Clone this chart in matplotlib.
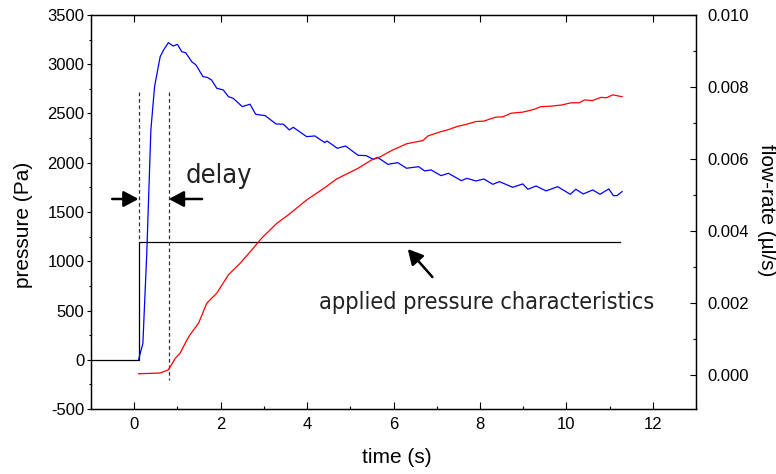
import matplotlib
matplotlib.use("Agg")
from matplotlib import pyplot as plt
from matplotlib.ticker import MultipleLocator, FormatStrFormatter

# data
time_p = [0.1, 0.2, 0.29, 0.385, 0.47, 0.6, 0.68, 0.79, 0.9, 1.0, 1.1, 1.19, 1.33, 1.43,
          1.59, 1.69, 1.79, 1.91, 2.06, 2.18, 2.29, 2.5, 2.68, 2.81, 3.03, 3.28, 3.45, 3.59,
          3.68, 3.99, 4.18, 4.41, 4.46, 4.7, 4.89, 5.18, 5.37, 5.53, 5.63, 5.87, 6.1, 6.3,
          6.58, 6.72, 6.87, 7.1, 7.27, 7.57, 7.7, 7.91, 8.09, 8.3, 8.45, 8.76, 8.99, 9.11,
          9.3, 9.53, 9.8, 10.09, 10.22, 10.39, 10.61, 10.78, 10.98, 11.09, 11.17, 11.29]
pressure = [0, 167, 1080, 2333, 2772, 3077, 3145, 3219, 3185, 3202, 3127, 3117, 3026, 2992,
            2874, 2867, 2840, 2756, 2739, 2671, 2654, 2570, 2594, 2492, 2478, 2394, 2391, 2333,
            2360, 2265, 2272, 2204, 2221, 2147, 2170, 2076, 2072, 2035, 2055, 1984, 2001, 1944,
            1960, 1917, 1927, 1869, 1893, 1818, 1842, 1815, 1835, 1781, 1808, 1751, 1785, 1731,
            1764, 1714, 1757, 1680, 1731, 1683, 1724, 1680, 1734, 1666, 1666, 1707]

time_f = [0.1, 0.6, 0.79, 0.95, 1.06, 1.22, 1.29, 1.49, 1.68, 1.91, 2.18, 2.45, 2.72, 2.95,
          3.3, 3.56, 3.99, 4.41, 4.68, 5.18, 5.49, 5.68, 5.95, 6.3, 6.68, 6.8, 7.1, 7.26,
          7.47, 7.68, 7.91, 8.09, 8.36, 8.53, 8.72, 8.99, 9.26, 9.4, 9.68, 9.9, 10.11, 10.3,
          10.42, 10.6, 10.8, 10.93, 11.07, 11.29]
flow = [0.00003, 0.00005, 0.00014, 0.00046, 0.0006, 0.00097, 0.00111, 0.00144, 0.00199,
        0.00227, 0.00278, 0.0031, 0.00347, 0.0038, 0.00421, 0.00444, 0.00486, 0.0052,
        0.00544, 0.00574, 0.00597, 0.00605, 0.00623, 0.00642, 0.00651, 0.00664, 0.00676,
        0.00681, 0.0069, 0.00696, 0.00704, 0.00705, 0.00716, 0.00717, 0.00727, 0.0073,
        0.00738, 0.00745, 0.00747, 0.0075, 0.00756, 0.00756, 0.00764, 0.00762, 0.00771,
        0.0077, 0.00778, 0.00773]

applied_t = [-1, 0.1, 0.1, 11.25]
applied_p = [0, 0, 1200, 1200]

delay_start = 0.1
delay_end = 0.8

plt.rcParams['font.family'] = ['Liberation Sans', 'DejaVu Sans']
plt.rcParams['axes.unicode_minus'] = False

fig = plt.figure(figsize=(7.76, 4.74), dpi=100)
ax = fig.add_axes([0.1173, 0.1371, 0.7796, 0.8313])

ax.plot(applied_t, applied_p, color='black', lw=0.9)
ax.plot(time_p, pressure, color='#0000ff', lw=0.9)
ax.plot([delay_start, delay_start], [2718, 1200], color='#333333', lw=0.9, dashes=(3, 2.2))
ax.plot([delay_end, delay_end], [2718, -206], color='#333333', lw=0.9, dashes=(3, 2.2))

ax.set_xlim(-1, 13)
ax.set_ylim(-500, 3500)
ax.xaxis.set_major_locator(MultipleLocator(2))
ax.xaxis.set_minor_locator(MultipleLocator(1))
ax.yaxis.set_major_locator(MultipleLocator(500))
ax.yaxis.set_minor_locator(MultipleLocator(250))
ax.tick_params(axis='x', which='major', direction='in', length=5, width=0.8,
               top=True, labelsize=12, pad=5.5)
ax.tick_params(axis='x', which='minor', direction='in', length=2.4, width=0.8, top=False)
ax.tick_params(axis='y', which='major', direction='out', length=3.2, width=0.8,
               labelsize=12, pad=1.5)
ax.tick_params(axis='y', which='minor', direction='out', length=1.8, width=0.8)
for s in ax.spines.values():
    s.set_linewidth(1.0)

ax.set_xlabel('time (s)', fontsize=15)
ax.xaxis.set_label_coords(0.506, -0.124)
ax.xaxis.label.set_va('center')
ax.set_ylabel('pressure (Pa)', fontsize=15)
ax.yaxis.set_label_coords(-0.111, 0.467)
ax.yaxis.label.set_va('center')

# arrows and notes
arrow_kw = dict(arrowstyle='-|>,head_length=0.45,head_width=0.24', color='black',
                lw=1.8, mutation_scale=20, shrinkA=0, shrinkB=0)
ax.annotate('', xy=(delay_start, 1632), xytext=(-0.51, 1632), arrowprops=arrow_kw)
ax.annotate('', xy=(delay_end, 1632), xytext=(1.57, 1632), arrowprops=arrow_kw)
ax.annotate('', xy=(6.33, 1124), xytext=(6.9, 840), arrowprops=arrow_kw)
ax.text(1.2, 1795, 'delay', fontsize=19.5, family='DejaVu Sans', fontstretch='condensed',
        va='baseline', color='#222222')
ax.text(4.27, 516, 'applied pressure characteristics', fontsize=16.8, family='DejaVu Sans',
        fontstretch='condensed', va='baseline', color='#222222')

ax2 = ax.twinx()
ax2.plot(time_f, flow, color='#ff0000', lw=0.9)
ax2.set_ylim(-0.00095, 0.010)
ax2.yaxis.set_major_locator(MultipleLocator(0.002))
ax2.yaxis.set_minor_locator(MultipleLocator(0.001))
ax2.yaxis.set_major_formatter(FormatStrFormatter('%.3f'))
ax2.tick_params(axis='y', which='major', direction='in', length=4.3, width=0.8,
                labelsize=12, pad=8)
ax2.tick_params(axis='y', which='minor', direction='in', length=2, width=0.8)
ax2.set_ylabel('flow-rate (\u00b5l/s)', fontsize=15)
ax2.yaxis.set_label_coords(1.117, 0.505)
ax2.yaxis.label.set_va('center')
ax2.yaxis.label.set_rotation(270)
ax2.yaxis.label.set_rotation_mode('anchor')

plt.savefig('out.png', dpi=100)
